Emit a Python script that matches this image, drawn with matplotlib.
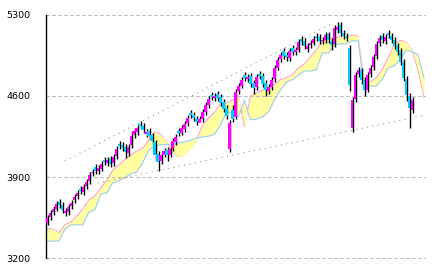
import numpy as np
import matplotlib
matplotlib.use("Agg")
import matplotlib.pyplot as plt

# ─── Colors ───────────────────────────────────────────────────────────────────
UP      = "#FF00FF"   # rising candle
DOWN    = "#00CCFF"   # falling candle
WICK    = "#000000"
CLOUD   = "#FFFFA0"
SPAN_A  = "#FF99CC"
SPAN_B  = "#99CCFF"
TREND   = "#808080"
GRID    = "#C0C0C0"

# ─── Price data (one candle per step) ────────────────────────────────────────
opens = [3510, 3555, 3600, 3630, 3690, 3665, 3590, 3600, 3650, 3700,
         3735, 3800, 3770, 3825, 3870, 3935, 3985, 3950, 3975, 4050,
         4020, 4060, 4020, 4085, 4190, 4175, 4160, 4110, 4180, 4265,
         4290, 4360, 4345, 4270, 4295, 4260, 4200, 4100, 4040, 4095,
         4135, 4095, 4150, 4200, 4300, 4285, 4315, 4365, 4455, 4440,
         4405, 4370, 4405, 4465, 4525, 4610, 4585, 4615, 4590, 4545,
         4495, 4140, 4480, 4420, 4640, 4690, 4780, 4745, 4770, 4710,
         4675, 4790, 4775, 4710, 4640, 4680, 4745, 4845, 4915, 4990,
         4950, 4930, 5010, 4975, 5000, 5090, 5070, 5005, 5035, 5060,
         5120, 5105, 5070, 5085, 5130, 5075, 5045, 5170, 5210, 5145,
         5120, 5015, 4325, 4570, 4790, 4820, 4735, 4655, 4785, 4850,
         4940, 5055, 5115, 5075, 5140, 5120, 5085, 5035, 4985, 4890,
         4750, 4600, 4480]
closes = [3550, 3590, 3625, 3670, 3660, 3620, 3610, 3645, 3680, 3730,
          3765, 3780, 3815, 3860, 3920, 3945, 3955, 3980, 4015, 4030,
          4050, 4015, 4075, 4145, 4170, 4150, 4115, 4160, 4255, 4300,
          4325, 4340, 4305, 4290, 4255, 4210, 4090, 4030, 4090, 4125,
          4090, 4145, 4210, 4245, 4280, 4325, 4360, 4410, 4435, 4410,
          4375, 4400, 4460, 4520, 4575, 4590, 4600, 4585, 4540, 4490,
          4425, 4370, 4400, 4635, 4685, 4740, 4755, 4765, 4705, 4670,
          4765, 4770, 4705, 4650, 4675, 4740, 4840, 4910, 4955, 4945,
          4935, 4985, 4980, 4995, 5065, 5065, 5030, 5030, 5055, 5090,
          5100, 5075, 5080, 5125, 5080, 5040, 5185, 5195, 5140, 5115,
          5100, 4695, 4565, 4780, 4825, 4740, 4650, 4780, 4840, 4935,
          5050, 5100, 5080, 5110, 5125, 5080, 5030, 4980, 4895, 4755,
          4610, 4495, 4565]
highs = [3575, 3615, 3650, 3695, 3715, 3690, 3635, 3670, 3705, 3755,
         3790, 3825, 3840, 3885, 3945, 3970, 4010, 4005, 4040, 4075,
         4075, 4085, 4100, 4170, 4215, 4200, 4185, 4185, 4280, 4325,
         4350, 4385, 4370, 4315, 4320, 4285, 4225, 4125, 4115, 4150,
         4160, 4170, 4235, 4270, 4325, 4350, 4385, 4435, 4480, 4465,
         4430, 4425, 4485, 4545, 4600, 4635, 4625, 4640, 4615, 4570,
         4520, 4390, 4520, 4660, 4710, 4765, 4805, 4790, 4795, 4735,
         4790, 4815, 4800, 4735, 4700, 4765, 4865, 4935, 4980, 5015,
         4975, 5010, 5035, 5020, 5090, 5115, 5095, 5055, 5080, 5115,
         5145, 5130, 5105, 5150, 5155, 5100, 5210, 5240, 5235, 5170,
         5145, 5040, 4590, 4805, 4850, 4845, 4760, 4805, 4865, 4960,
         5075, 5125, 5140, 5135, 5165, 5145, 5110, 5060, 5010, 4915,
         4775, 4625, 4590]
lows = [3485, 3530, 3575, 3605, 3635, 3595, 3565, 3575, 3625, 3675,
        3710, 3755, 3745, 3800, 3845, 3910, 3930, 3925, 3950, 4005,
        3995, 3990, 3995, 4060, 4145, 4125, 4065, 4085, 4155, 4240,
        4265, 4315, 4280, 4245, 4230, 4185, 4050, 3955, 4010, 4070,
        4040, 4070, 4125, 4175, 4255, 4260, 4290, 4340, 4410, 4385,
        4350, 4400, 4380, 4440, 4500, 4565, 4560, 4560, 4515, 4465,
        4400, 4120, 4380, 4400, 4615, 4665, 4730, 4720, 4680, 4620,
        4650, 4745, 4680, 4600, 4615, 4655, 4720, 4820, 4890, 4920,
        4900, 4905, 4955, 4950, 4975, 5040, 5005, 4980, 5010, 5035,
        5075, 5050, 5045, 5060, 5055, 5000, 5020, 5145, 5115, 5090,
        5075, 4640, 4290, 4545, 4765, 4700, 4600, 4630, 4760, 4825,
        4915, 5030, 5055, 5050, 5100, 5055, 5005, 4955, 4870, 4730,
        4560, 4325, 4455]

# ─── Ichimoku cloud (sampled every 2 candles, runs past the last candle) ─────
span_a = [3455, 3455, 3420, 3490, 3515, 3565, 3625, 3705, 3740, 3805,
          3875, 3960, 4005, 4050, 4090, 4125, 4150, 4220, 4290, 4270,
          4205, 4115, 4075, 4090, 4150, 4220, 4350, 4410, 4460, 4530,
          4540, 4565, 4600, 4335, 4600, 4625, 4650, 4670, 4695, 4740,
          4755, 4780, 4840, 4875, 4935, 4995, 5065, 5100, 5100, 5110,
          5110, 5125, 5115, 4740, 4720, 4755, 4825, 4925, 5040, 5080,
          5065, 4995, 4825, 4590]
span_b = [3350, 3350, 3350, 3455, 3490, 3490, 3490, 3600, 3620, 3755,
          3765, 3850, 3870, 3895, 3930, 3945, 4025, 4135, 4170, 4180,
          4180, 4180, 4195, 4205, 4220, 4240, 4245, 4255, 4270, 4350,
          4460, 4455, 4420, 4565, 4395, 4400, 4420, 4460, 4565, 4650,
          4720, 4740, 4780, 4815, 4815, 4825, 4970, 4970, 5040, 5050,
          5050, 5075, 5075, 4685, 4685, 4685, 4740, 4840, 4860, 4910,
          4995, 4980, 4955, 4755]

# ─── Trend lines (candle position, price) ────────────────────────────────────
upper_pos = [6, 95.7]
upper_val = [4040, 5228]
lower_pos = [17, 126.7]
lower_val = [3850, 4436]

y_ticks = [3200, 3900, 4600, 5300]

o = np.array(opens)
c = np.array(closes)
idx = np.arange(len(o))
cloud_idx = np.arange(len(span_a)) * 2

fig = plt.figure(figsize=(4.32, 2.72), dpi=100, facecolor="white")
ax = fig.add_axes([46 / 432, 13.5 / 272, 380 / 432, 243.8 / 272])

# cloud: span A mostly hidden under the fill, span B on top
ax.plot(cloud_idx, span_a, color=SPAN_A, linewidth=0.8, zorder=0.9)
ax.fill_between(cloud_idx, span_a, span_b, color=CLOUD, linewidth=0, zorder=1)
ax.plot(cloud_idx, span_b, color=SPAN_B, linewidth=0.8, zorder=2)

# grid
for v in y_ticks:
    ax.axhline(v, color=GRID, linewidth=0.72, dashes=(3, 2.7), zorder=2.5,
               antialiased=False)

# trend lines
ax.plot(upper_pos, upper_val, color=TREND, linewidth=0.72, dashes=(1, 4.5),
        zorder=2.6)
ax.plot(lower_pos, lower_val, color=TREND, linewidth=0.72, dashes=(1, 4.5),
        zorder=2.6)

# candles
ax.vlines(idx + 0.3, lows, highs, color=WICK, linewidth=1.0, zorder=3)
colors = np.where(c >= o, UP, DOWN)
ax.bar(idx, np.abs(c - o), bottom=np.minimum(o, c), width=0.8,
       color=colors, linewidth=0, zorder=4)

ax.set_xlim(-0.3, 126.67)
ax.set_ylim(3200, 5300)
ax.set_yticks(y_ticks)
ax.set_yticklabels([str(v) for v in y_ticks], fontsize=6.8)
ax.set_xticks([])
ax.tick_params(axis="y", direction="in", length=2.5, width=0.8, pad=11.5, colors="black")
for side in ("top", "right", "bottom"):
    ax.spines[side].set_visible(False)
ax.spines["left"].set_linewidth(1.0)
ax.spines["left"].set_color("black")

fig.savefig("out.png", dpi=100, facecolor="white")
